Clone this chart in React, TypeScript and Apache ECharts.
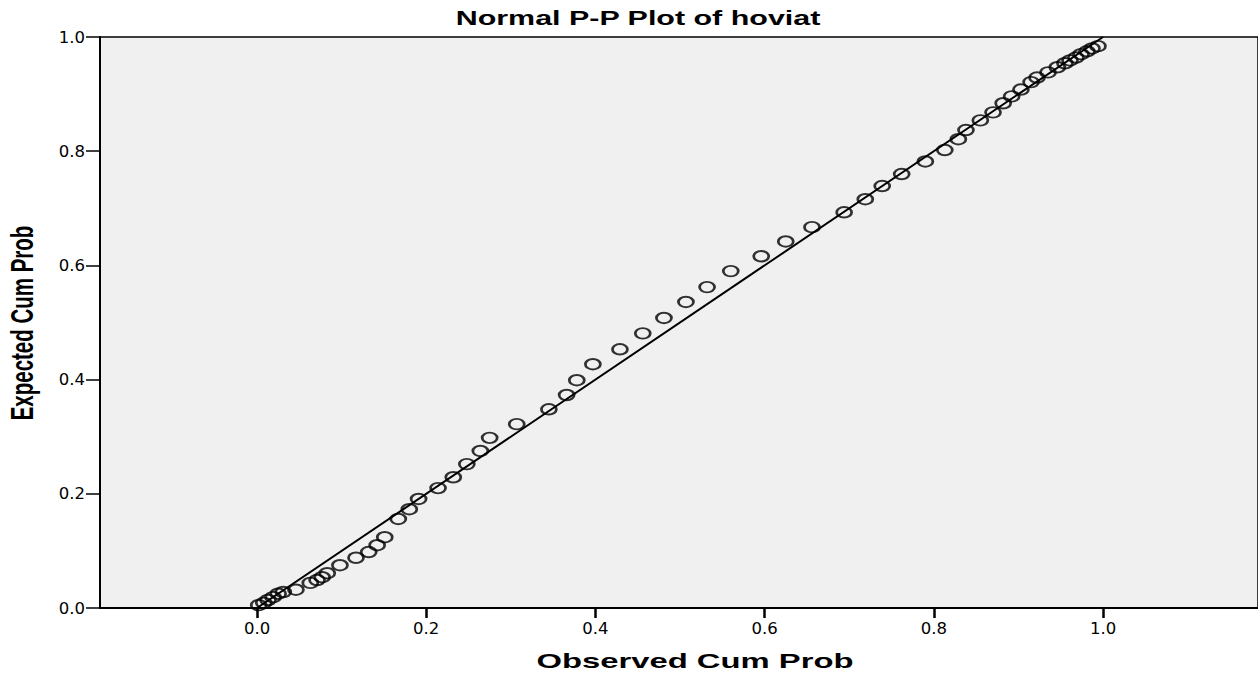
import React, { useEffect, useRef } from "react";
import * as echarts from "echarts";

const TITLE = "Normal P-P Plot of hoviat";
const X_NAME = "Observed Cum Prob";
const Y_NAME = "Expected Cum Prob";
const TICK_VALUES = [0, 0.2, 0.4, 0.6, 0.8, 1.0];

const observed = [
  0.002, 0.008, 0.013, 0.019, 0.025, 0.031, 0.046, 0.063, 0.071, 0.077,
  0.083, 0.098, 0.117, 0.132, 0.142, 0.151, 0.167, 0.18, 0.191, 0.214,
  0.232, 0.248, 0.264, 0.275, 0.307, 0.345, 0.366, 0.378, 0.397, 0.429,
  0.456, 0.481, 0.507, 0.532, 0.56, 0.596, 0.625, 0.656, 0.694, 0.719,
  0.739, 0.762, 0.79, 0.813, 0.829, 0.838, 0.855, 0.87, 0.882, 0.892,
  0.903, 0.915, 0.922, 0.935, 0.946, 0.955, 0.961, 0.968, 0.974, 0.981,
  0.987, 0.994,
];
const expected = [
  0.005, 0.009, 0.014, 0.019, 0.025, 0.028, 0.032, 0.044, 0.049, 0.054,
  0.061, 0.075, 0.088, 0.098, 0.11, 0.124, 0.156, 0.173, 0.191, 0.21,
  0.229, 0.252, 0.275, 0.298, 0.322, 0.348, 0.373, 0.399, 0.427, 0.453,
  0.481, 0.508, 0.536, 0.562, 0.59, 0.616, 0.642, 0.667, 0.693, 0.716,
  0.739, 0.76, 0.782, 0.802, 0.821, 0.837, 0.854, 0.868, 0.884, 0.896,
  0.908, 0.921, 0.929, 0.938, 0.947, 0.954, 0.959, 0.964, 0.97, 0.975,
  0.98, 0.984,
];
const refLine = [
  [0, 0],
  [1, 1],
];

const X_MIN = -0.1856;
const X_MAX = 1.1832;

export default function App() {
  const ref = useRef<HTMLDivElement>(null);
  useEffect(() => {
    if (!ref.current) return;
    const chart = echarts.init(ref.current, undefined, { renderer: "svg" });
    const pts = observed.map((x, i) => [x, expected[i]]);
    const labelFont = "'DejaVu Sans', 'Liberation Sans', sans-serif";
    chart.setOption({
      animation: false,
      backgroundColor: "#ffffff",
      grid: {
        left: 100,
        right: 0,
        top: 37,
        bottom: 65,
        show: true,
        backgroundColor: "#f0f0f0",
        borderColor: "#000",
        borderWidth: 1.5,
      },
      xAxis: {
        type: "value",
        min: X_MIN,
        max: X_MAX,
        splitLine: { show: false },
        axisLine: { onZero: false, lineStyle: { color: "#000", width: 2 } },
        axisTick: {
          show: true,
          customValues: TICK_VALUES,
          length: 10,
          lineStyle: { color: "#000", width: 2.5 },
        },
        axisLabel: {
          customValues: TICK_VALUES,
          formatter: (v: number) => v.toFixed(1),
          color: "#000",
          fontFamily: labelFont,
          fontSize: 16.5,
          margin: 12,
        },
      },
      yAxis: {
        type: "value",
        min: 0,
        max: 1,
        interval: 0.2,
        splitLine: { show: false },
        axisLine: { onZero: false, lineStyle: { color: "#000", width: 2 } },
        axisTick: {
          show: true,
          length: 14,
          lineStyle: { color: "#000", width: 1.5 },
        },
        axisLabel: {
          formatter: (v: number) => v.toFixed(1),
          color: "#000",
          fontFamily: labelFont,
          fontSize: 16.5,
          margin: 15,
        },
      },
      graphic: [
        {
          type: "text",
          x: 638,
          y: 18,
          scaleX: 1.45,
          style: {
            text: TITLE,
            fontFamily: "'Liberation Sans', Arial, sans-serif",
            fontWeight: "bold",
            fontSize: 21,
            fill: "#000",
            align: "center",
            verticalAlign: "middle",
          },
        },
        {
          type: "text",
          x: 695,
          y: 661,
          scaleX: 1.6,
          style: {
            text: X_NAME,
            fontFamily: "'Liberation Sans', Arial, sans-serif",
            fontWeight: "bold",
            fontSize: 20.5,
            fill: "#000",
            align: "center",
            verticalAlign: "middle",
          },
        },
        {
          type: "text",
          x: 22,
          y: 323,
          rotation: Math.PI / 2,
          scaleY: 1.55,
          style: {
            text: Y_NAME,
            fontFamily: "'Liberation Sans', Arial, sans-serif",
            fontWeight: "bold",
            fontSize: 20.5,
            fill: "#000",
            align: "center",
            verticalAlign: "middle",
          },
        },
      ],
      series: [
        {
          type: "line",
          data: refLine,
          symbol: "none",
          lineStyle: { color: "#000", width: 2 },
          z: 2,
        },
        {
          type: "scatter",
          data: pts,
          symbol: "path://M0 5A7 5 0 1 0 14 5A7 5 0 1 0 0 5Z",
          symbolSize: [15, 10.5],
          itemStyle: { color: "transparent", borderColor: "#000", borderWidth: 2.3 },
          z: 3,
        },
      ],
    });
    return () => chart.dispose();
  }, []);
  return (
    <div
      ref={ref}
      style={{ position: "fixed", left: 0, top: 0, width: 1258, height: 673 }}
    />
  );
}
